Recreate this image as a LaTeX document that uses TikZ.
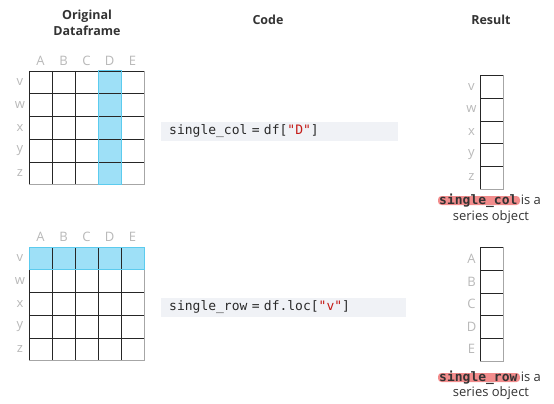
\documentclass[tikz,border=0pt]{standalone}
\usepackage{fontspec}
\setmainfont{Open Sans}
\setmonofont{DejaVu Sans Mono}
\usetikzlibrary{positioning}
\definecolor{hlfill}{HTML}{9EE0F7}
\definecolor{hledge}{HTML}{5CCBEE}
\definecolor{codebg}{HTML}{F0F2F6}
\definecolor{codefg}{HTML}{2A2A2A}
\definecolor{strred}{HTML}{C41A16}
\definecolor{markred}{HTML}{F28C8C}
\definecolor{lblgray}{HTML}{B8B8B8}
\tikzset{head/.style={font=\bfseries\fontsize{12.5}{16}\selectfont, text=black!80, align=center}}
\tikzset{lbl/.style={font=\fontsize{13}{14}\selectfont, text=lblgray, inner sep=0pt}}
\tikzset{codebox/.style={fill=codebg, anchor=west, inner xsep=8pt, minimum height=19pt, align=left, text=codefg, font=\ttfamily\fontsize{13}{14}\selectfont}}
\tikzset{note/.style={inner sep=0pt, text=black!80, font=\fontsize{13}{15}\selectfont}}
\tikzset{cellline/.style={draw=black!85, line width=0.8pt}}
\tikzset{rim/.style={draw=black!35, line width=0.8pt}}
\newcommand\dfgrid[2]{% columns, rows; cell 23 x 22.75
		\draw[rim] (0,0) rectangle (#1*23, #2*22.75);
		\foreach \k in {1,...,#1} \draw[cellline] (\k*23-23, 0) -- (\k*23-23, #2*22.75);
		\foreach \k in {1,...,#2} \draw[cellline] (0, \k*22.75-22.75) -- (#1*23, \k*22.75-22.75);
		\draw[rim] (#1*23, 0) -- (#1*23, #2*22.75) -- (0, #2*22.75);
		}
\begin{document}
\begin{tikzpicture}[x=1pt, y=-1pt]
			\useasboundingbox (0,0) rectangle (554,404);
			% titles
			\node[head] (ttlorig) at (87, 23) {Original\\Dataframe};
			\node[head] (ttlcode) at (268, 20) {Code};
			\node[head] (ttlres) at (491, 20) {Result};
			% top dataframe, column D picked
			\begin{scope}[shift={(29, 71)}]
				\fill[hlfill] (69, 0) rectangle (92, 113.75);
				\dfgrid{5}{5}
				\draw[hledge, line width=1pt] (69, 0) rectangle (92, 113.75);
			\end{scope}
			\foreach \c [count=\i from 0] in {A,B,C,D,E}
				\node[lbl] (colT\c) at (40.5+23*\i, 61) {\c};
			\foreach \r [count=\j from 0] in {v,w,x,y,z}
				\node[lbl] (rowT\r) at (20, 82.5+22.75*\j) {\r};
			% bottom dataframe, row v picked
			\begin{scope}[shift={(29, 247)}]
				\fill[hlfill] (0, 0) rectangle (115, 22.75);
				\dfgrid{5}{5}
				\draw[hledge, line width=1pt] (0, 0) rectangle (115, 22.75);
			\end{scope}
			\foreach \c [count=\i from 0] in {A,B,C,D,E}
				\node[lbl] (colB\c) at (40.5+23*\i, 236.5) {\c};
			\foreach \r [count=\j from 0] in {v,w,x,y,z}
				\node[lbl] (rowB\r) at (20, 258.5+22.75*\j) {\r};
			% code
			\node[codebox, text width=221pt] (codecol) at (161, 131.5) {single\_col\ =\ df[\textcolor{strred}{"D"}]};
			\node[codebox, text width=229pt] (coderow) at (161, 307.5) {single\_row\ =\ df.loc[\textcolor{strred}{"v"}]};
			% results
			\begin{scope}[shift={(480, 75.5)}]
				\dfgrid{1}{5}
			\end{scope}
			\foreach \r [count=\j from 0] in {v,w,x,y,z}
				\node[lbl] (resT\r) at (471.5, 87+22.5*\j) {\r};
			\begin{scope}[shift={(480, 247.5)}]
				\dfgrid{1}{5}
			\end{scope}
			\foreach \c [count=\j from 0] in {A,B,C,D,E}
				\node[lbl] (resB\c) at (471.5, 259+22.5*\j) {\c};
			% notes
			\fill[markred, rounded corners=3.5pt] (438, 196) rectangle (520, 205);
			\node[note, font=\ttfamily\bfseries\fontsize{13}{15}\selectfont, anchor=base west] (nameT) at (439, 204.5) {single\_col};
			\node[note, right=3pt of nameT.base east, anchor=base west] (isaT) {is a};
			\node[note] (serT) at (491, 217) {series object};
			\fill[markred, rounded corners=3.5pt] (438, 373) rectangle (520, 382);
			\node[note, font=\ttfamily\bfseries\fontsize{13}{15}\selectfont, anchor=base west] (nameB) at (439, 381.5) {single\_row};
			\node[note, right=3pt of nameB.base east, anchor=base west] (isaB) {is a};
			\node[note] (serB) at (491, 393) {series object};
		\end{tikzpicture}
\end{document}
